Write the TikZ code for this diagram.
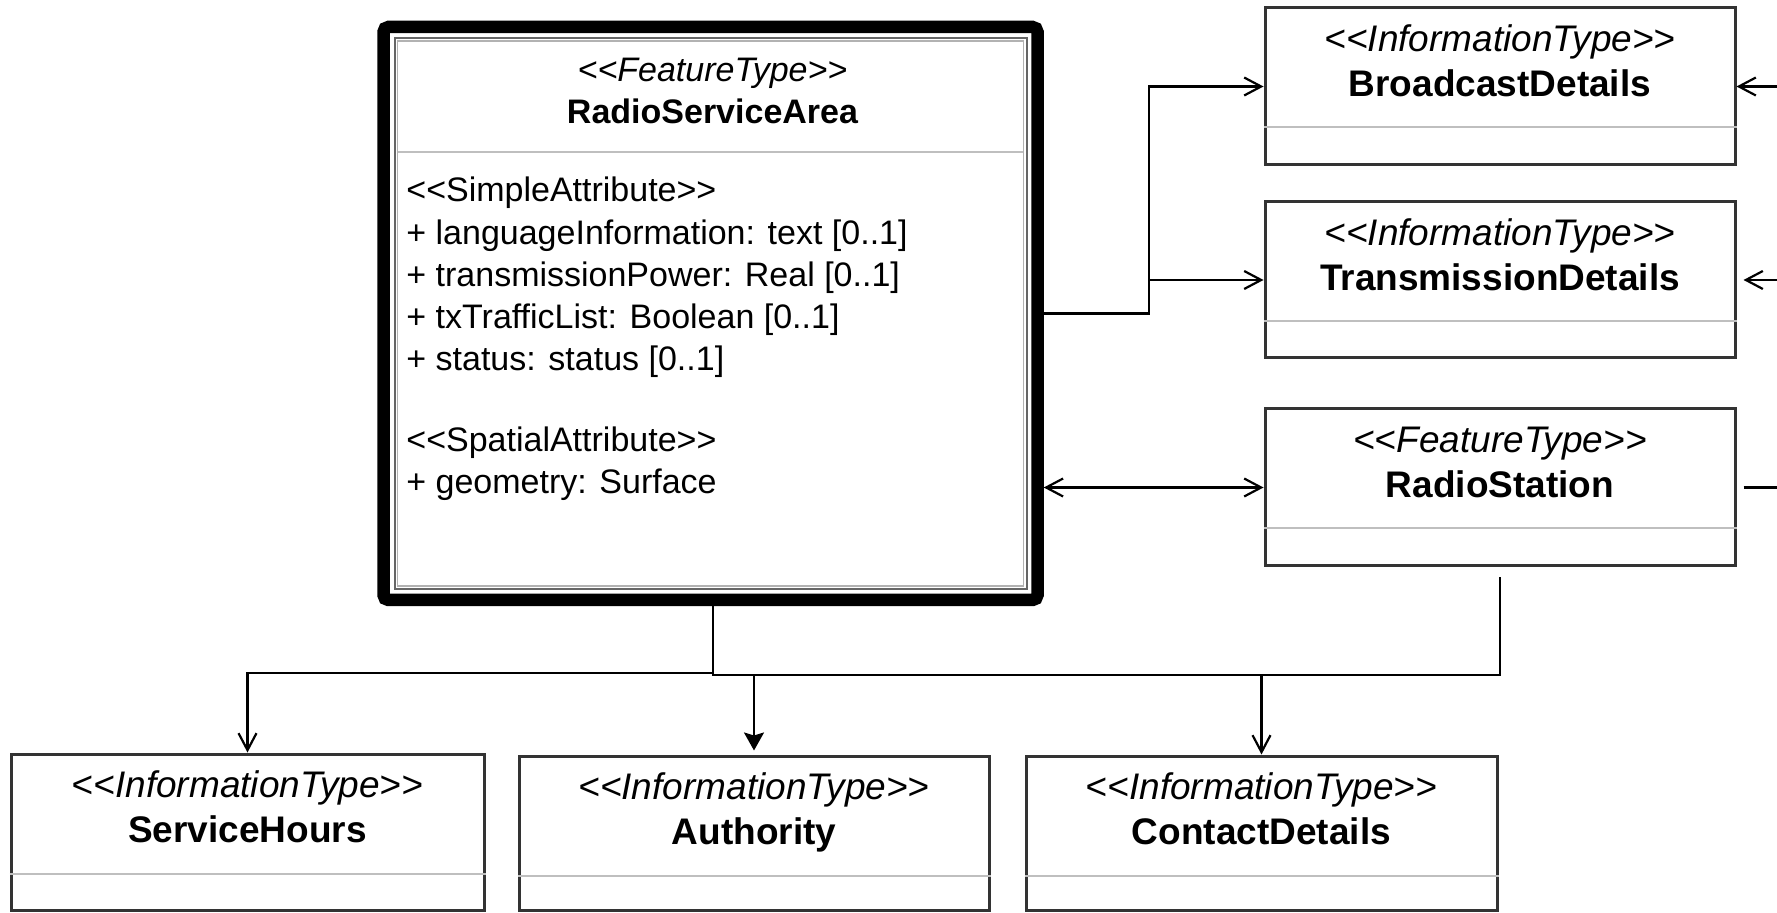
\documentclass[tikz,border=0pt]{standalone}
\usepackage{fontspec}
\newfontfamily\umlfont{Liberation Sans}
\usetikzlibrary{arrows.meta,fit,calc}
\tikzset{
  umlbox/.style={draw=black!80, line width=1.5pt, inner sep=0pt, fill=white},
  sepline/.style={draw=black!25, line width=1pt},
  stereo/.style={font=\umlfont\fontsize{18.5}{22}\selectfont\itshape, inner sep=0pt, anchor=base},
  cname/.style={font=\umlfont\fontsize{18.5}{22}\selectfont\bfseries, inner sep=0pt, anchor=base},
  stereoM/.style={font=\umlfont\fontsize{17}{20}\selectfont\itshape, inner sep=0pt, anchor=base},
  cnameM/.style={font=\umlfont\fontsize{17}{20}\selectfont\bfseries, inner sep=0pt, anchor=base},
  attr/.style={font=\umlfont\fontsize{17}{20}\selectfont, inner sep=0pt, anchor=base west},
  conn/.style={draw=black, line width=1.1pt},
  oa/.style={conn, -{Straight Barb[length=8.5pt,width=9pt]}},
  oab/.style={conn, {Straight Barb[length=8.5pt,width=9pt]}-{Straight Barb[length=8.5pt,width=9pt]}},
  fa/.style={conn, -{Stealth[length=9pt,width=10pt,inset=1.5pt]}},
}
\newcommand\umlclass[7]{%
  \node[umlbox, fit={(#2,#3)(#4,#5)}] (#1) {};
  \draw[sepline] ($(#1.north west)+(0,121)$) -- ($(#1.north east)+(0,121)$);
  \node[stereo] (#1-s) at ($(#1.north)+(0,45)$) {#6};
  \node[cname] (#1-n) at ($(#1.north)+(0,90)$) {#7};
}
\begin{document}
\begin{tikzpicture}[x=0.5pt,y=-0.5pt]
\fill[white] (0,0) rectangle (1777,913);
\useasboundingbox (0,0) rectangle (1777,913);

% main class
\node[fit={(383.5,27)(1037.5,600)}, draw=black, line width=6.25pt, rounded corners=2.5pt, inner sep=0pt] (rsa) {};
\draw[draw=black!60, line width=1pt] (394.5,38) rectangle (1026.5,589);
\draw[draw=black!30, line width=0.6pt] (397.5,41) rectangle (1023.5,586);
\draw[sepline] (398,152) -- (1023,152);
\node[stereoM] (rsa-s) at (712.5,82) {<<FeatureType>>};
\node[cnameM] (rsa-n) at (712.5,124) {RadioServiceArea};
\node[attr] (a1) at (406,202) {<<SimpleAttribute>>};
\node[attr] (a2) at (406,245) {+ languageInformation: text [0..1]};
\node[attr] (a3) at (406,287) {+ transmissionPower: Real [0..1]};
\node[attr] (a4) at (406,329) {+ txTrafficList: Boolean [0..1]};
\node[attr] (a5) at (406,371) {+ status: status [0..1]};
\node[attr] (a6) at (406,452) {<<SpatialAttribute>>};
\node[attr] (a7) at (406,494) {+ geometry: Surface};

% other classes
\umlclass{bd}{1265}{8}{1735}{165}{<<InformationType>>}{BroadcastDetails}
\umlclass{td}{1265}{202}{1735}{358}{<<InformationType>>}{TransmissionDetails}
\umlclass{rs}{1265}{409}{1735}{566}{<<FeatureType>>}{RadioStation}
\umlclass{sh}{11}{754}{484}{910}{<<InformationType>>}{ServiceHours}
\umlclass{au}{519}{756}{989}{910}{<<InformationType>>}{Authority}
\umlclass{ct}{1026}{756}{1497}{910}{<<InformationType>>}{ContactDetails}

% helper coordinates
\coordinate (jr) at (1149,0);
\coordinate (er) at (1777,0);
\coordinate (bus1) at (0,673);
\coordinate (bus2) at (0,675);
\coordinate (rsab) at ([xshift=1.25pt]rsa.south);

% connectors
\draw[oa] (rsa.east) -| (jr |- bd.west) -- (bd.west);
\draw[oa] (jr |- td.west) -- (td.west);
\draw[oab] (rsa.east |- rs.west) -- (rs.west);
\draw[oa] (er |- bd.east) -- (bd.east);
\draw[oa, shorten >=3.5pt] (er |- td.east) -- (td.east);
\draw[conn, shorten <=3.5pt] (rs.east) -- (er |- rs.east);
\draw[oa] (rsab) |- (sh.north |- bus1) -- (sh.north);
\draw[fa, shorten >=2pt] (rsab) |- (au.north |- bus2) -- (au.north);
\draw[oa, shorten <=5pt] (rs.south) |- (ct.north |- bus2) -- (ct.north);
\draw[conn, shorten <=5pt] (rs.south) |- (au.north |- bus2);
\end{tikzpicture}
\end{document}
